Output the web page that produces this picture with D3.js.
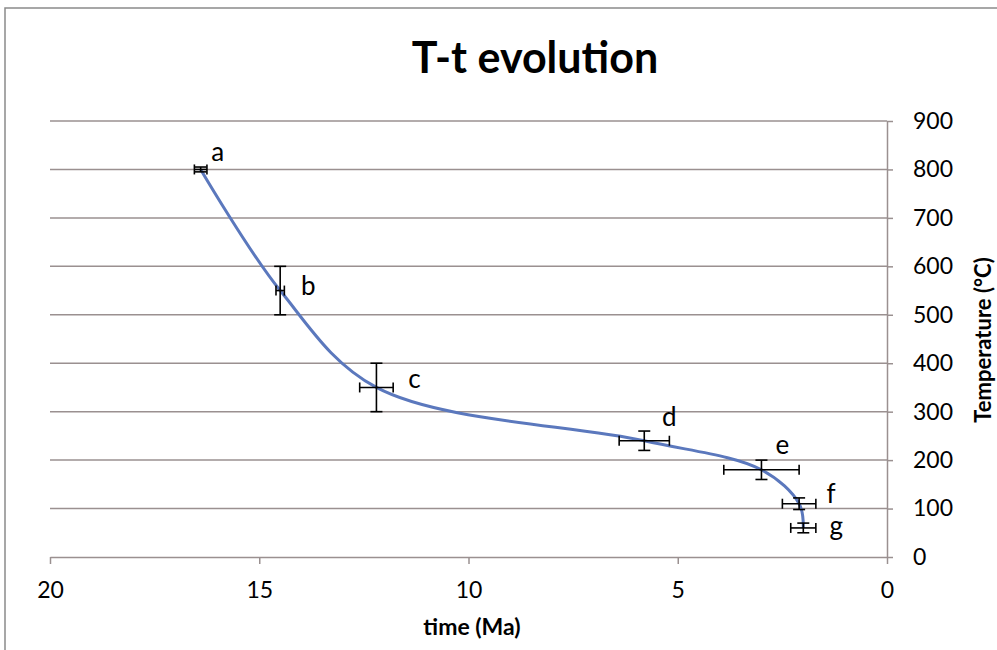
<!DOCTYPE html>
<html lang="en">
<head>
    <meta charset="UTF-8">
    <title>T-t evolution</title>
    <script src="https://d3js.org/d3.v7.min.js"></script>
    <style>
        body { margin: 0; background: white; }
        svg { display: block; }
        .grid line { stroke: #9a9090; stroke-width: 1.5px; }
        .axis path, .axis line { stroke: #9a9090; stroke-width: 1.5px; }
        .axis text { font-family: Lato, sans-serif; font-size: 23px; fill: black; }
        .curve { fill: none; stroke: #5b78bd; stroke-width: 3px; }
        .err { stroke: black; stroke-width: 1.6px; }
        .lbl { font-family: Lato, sans-serif; font-size: 26px; fill: black; }
        .ttl { font-family: Lato, sans-serif; font-weight: bold; fill: black; }
    </style>
</head>
<body>
    <svg width="997" height="650"></svg>

    <script>
        // data (time in Ma, temperature in °C)
        const names = ["a", "b", "c", "d", "e", "f", "g"];
        const ages = [16.4, 14.5, 12.2, 5.8, 3.0, 2.1, 2.0];
        const temps = [800, 550, 350, 240, 180, 110, 60];
        const ageErr = [0.15, 0.1, 0.4, 0.6, 0.9, 0.4, 0.3];
        const tempErr = [5, 50, 50, 20, 20, 12, 10];
        const xTicks = [20, 15, 10, 5, 0];
        const yTicks = [0, 100, 200, 300, 400, 500, 600, 700, 800, 900];

        const pts = names.map((n, i) => ({
            name: n, t: ages[i], T: temps[i], dt: ageErr[i], dT: tempErr[i]
        }));

        let svg = d3.select("svg");

        // outer chart border
        svg.append("rect")
            .attr("x", 5).attr("y", 8).attr("width", 1010).attr("height", 700)
            .attr("fill", "none").attr("stroke", "#8a8a8a").attr("stroke-width", 1.5);

        let x = d3.scaleLinear().domain([20, 0]).range([50, 887]);
        let y = d3.scaleLinear().domain([0, 900]).range([557, 121]);

        // gridlines
        svg.append("g").attr("class", "grid")
            .selectAll("line")
            .data(yTicks.filter(d => d > 0))
            .enter().append("line")
            .attr("x1", x(20)).attr("x2", x(0))
            .attr("y1", d => y(d)).attr("y2", d => y(d));

        let xAxis = d3.axisBottom(x).tickValues(xTicks).tickSize(7).tickSizeOuter(0).tickPadding(18);
        svg.append("g").attr("class", "axis")
            .attr("transform", `translate(0,${y(0)})`)
            .call(xAxis);

        let yAxis = d3.axisRight(y).tickValues(yTicks).tickSize(6).tickSizeOuter(0).tickPadding(20);
        svg.append("g").attr("class", "axis")
            .attr("transform", `translate(${x(0)},0)`)
            .call(yAxis);

        // smoothed cooling path
        let line = d3.line()
            .x(d => x(d.t)).y(d => y(d.T))
            .curve(d3.curveCatmullRom.alpha(0.5));
        svg.append("path").attr("class", "curve").attr("d", line(pts));

        // error bars
        let eb = svg.append("g");
        pts.forEach(d => {
            let cx = x(d.t), cy = y(d.T), cap = 5;
            let x1 = x(d.t + d.dt), x2 = x(d.t - d.dt);
            let y1 = y(d.T + d.dT), y2 = y(d.T - d.dT);
            eb.append("line").attr("class", "err").attr("x1", x1).attr("x2", x2).attr("y1", cy).attr("y2", cy);
            eb.append("line").attr("class", "err").attr("x1", x1).attr("x2", x1).attr("y1", cy - cap).attr("y2", cy + cap);
            eb.append("line").attr("class", "err").attr("x1", x2).attr("x2", x2).attr("y1", cy - cap).attr("y2", cy + cap);
            eb.append("line").attr("class", "err").attr("x1", cx).attr("x2", cx).attr("y1", y1).attr("y2", y2);
            eb.append("line").attr("class", "err").attr("x1", cx - 6).attr("x2", cx + 6).attr("y1", y1).attr("y2", y1);
            eb.append("line").attr("class", "err").attr("x1", cx - 6).attr("x2", cx + 6).attr("y1", y2).attr("y2", y2);
        });

        // point labels (offset of label centre from the point)
        const lblOff = { a: [17, -16], b: [28, -3], c: [38, -7], d: [25, -23], e: [21, -24], f: [32, -9], g: [33, -1] };
        svg.selectAll(".lbl")
            .data(pts)
            .enter().append("text")
            .attr("class", "lbl")
            .attr("text-anchor", "middle")
            .attr("x", d => x(d.t) + lblOff[d.name][0])
            .attr("y", d => y(d.T) + lblOff[d.name][1])
            .attr("dy", "0.3em")
            .text(d => d.name);

        // titles
        svg.append("text").attr("class", "ttl")
            .attr("x", 535).attr("y", 73)
            .attr("text-anchor", "middle")
            .style("font-size", "43px")
            .text("T-t evolution");

        svg.append("text").attr("class", "ttl")
            .attr("x", 472).attr("y", 635)
            .attr("text-anchor", "middle")
            .style("font-size", "23px")
            .text("time (Ma)");

        svg.append("text").attr("class", "ttl")
            .attr("transform", "translate(991,340) rotate(-90)")
            .attr("text-anchor", "middle")
            .style("font-size", "22px")
            .text("Temperature (°C)");
    </script>
</body>
</html>
